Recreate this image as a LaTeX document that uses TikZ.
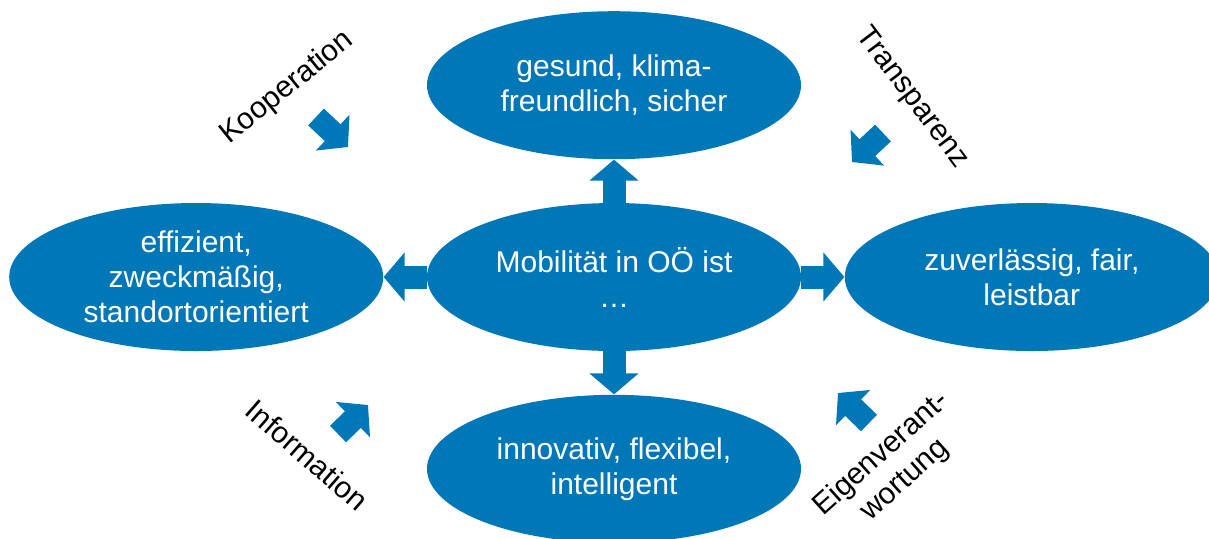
\documentclass[tikz,border=0pt]{standalone}
\usepackage{fontspec}
\setmainfont{Liberation Sans}
\usetikzlibrary{shapes.geometric,arrows.meta,positioning}
\definecolor{oeblue}{RGB}{0,119,182}

\begin{document}
\begin{tikzpicture}[
    x=0.5pt, y=-0.5pt,
    font=\fontsize{15}{17.5}\selectfont,
    node distance=21.5pt,
    field/.style={ellipse, fill=oeblue, text=white, minimum width=187pt, minimum height=74pt, inner sep=0pt, align=center},
    tag/.style={align=center, inner sep=0pt},
    blockarrow/.style={draw=oeblue, line width=11.5pt, -{Triangle[length=10.5pt, width=24pt]}}
]
\clip (0,0) rectangle (1209,538);
\node[field] (mob) at (614,277) {Mobilität in OÖ ist\\…};
\node[field, above=of mob] (gesund) {gesund, klima-\\freundlich, sicher};
\node[field, left=of mob] (effiz) {effizient,\\zweckmäßig,\\standortorientiert};
\node[field, right=of mob] (zuverl) {zuverlässig, fair,\\leistbar};
\node[field, below=of mob] (innov) {innovativ, flexibel,\\intelligent};

\foreach \a/\b in {mob.north/gesund.south, mob.west/effiz.east, mob.east/zuverl.west, mob.south/innov.north}
  \draw[blockarrow] (\a) -- (\b);

% small arrows next to the side labels
\coordinate (koopA) at (316,117);
\coordinate (koopB) at (348,147);
\coordinate (transpA) at (883,133);
\coordinate (transpB) at (852,162);
\coordinate (infoA) at (338,434);
\coordinate (infoB) at (368,405);
\coordinate (eigenA) at (869,423);
\coordinate (eigenB) at (838,393);
\foreach \a/\b in {koopA/koopB, transpA/transpB, infoA/infoB, eigenA/eigenB}
  \draw[blockarrow] (\a) -- (\b);

\node[tag, rotate=39] (koop) at (287,88) {Kooperation};
\node[tag, rotate=-53] (transp) at (912,98) {Transparenz};
\node[tag, rotate=-41] (info) at (307,455) {Information};
\node[tag, rotate=42] (eigen) at (893,467) {Eigenverant-\\wortung};
\end{tikzpicture}
\end{document}
